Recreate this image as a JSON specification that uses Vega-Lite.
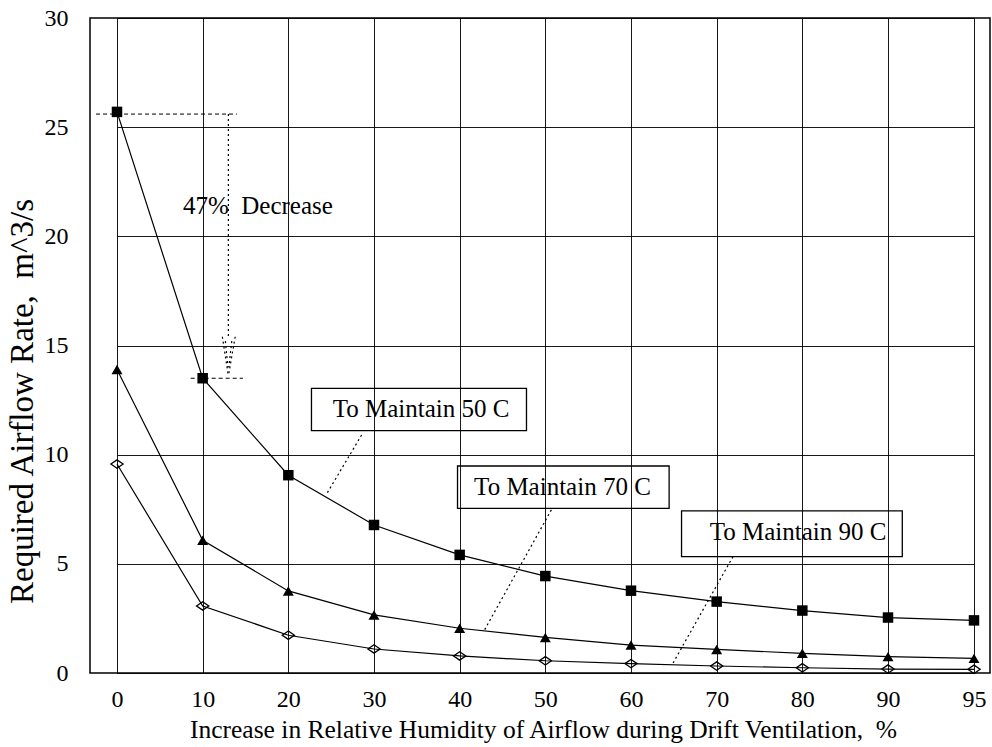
{
  "$schema": "https://vega.github.io/schema/vega-lite/v6.json",
  "width": 900,
  "height": 655,
  "autosize": {"type": "none"},
  "padding": {"left": 90, "top": 18, "right": 2, "bottom": 74},
  "background": "white",
  "config": {
    "view": {"stroke": "black", "strokeWidth": 1.5},
    "font": "Liberation Serif",
    "axis": {
      "labelFont": "Liberation Serif",
      "titleFont": "Liberation Serif",
      "labelColor": "black",
      "titleColor": "black",
      "titleFontWeight": "normal",
      "grid": true,
      "gridColor": "black",
      "gridWidth": 1,
      "gridOpacity": 0.9,
      "domain": false,
      "ticks": false,
      "tickSize": 0
    }
  },
  "datasets": {
    "series": [
      {"x": 0, "y": 25.7, "s": "50 C"}, {"x": 10, "y": 13.5, "s": "50 C"}, {"x": 20, "y": 9.06, "s": "50 C"}, {"x": 30, "y": 6.78, "s": "50 C"}, {"x": 40, "y": 5.41, "s": "50 C"}, {"x": 50, "y": 4.44, "s": "50 C"}, {"x": 60, "y": 3.77, "s": "50 C"}, {"x": 70, "y": 3.27, "s": "50 C"}, {"x": 80, "y": 2.86, "s": "50 C"}, {"x": 90, "y": 2.54, "s": "50 C"}, {"x": 95, "y": 2.41, "s": "50 C"},
      {"x": 0, "y": 13.9, "s": "70 C"}, {"x": 10, "y": 6.08, "s": "70 C"}, {"x": 20, "y": 3.76, "s": "70 C"}, {"x": 30, "y": 2.66, "s": "70 C"}, {"x": 40, "y": 2.05, "s": "70 C"}, {"x": 50, "y": 1.63, "s": "70 C"}, {"x": 60, "y": 1.28, "s": "70 C"}, {"x": 70, "y": 1.08, "s": "70 C"}, {"x": 80, "y": 0.9, "s": "70 C"}, {"x": 90, "y": 0.75, "s": "70 C"}, {"x": 95, "y": 0.67, "s": "70 C"},
      {"x": 0, "y": 9.57, "s": "90 C"}, {"x": 10, "y": 3.07, "s": "90 C"}, {"x": 20, "y": 1.73, "s": "90 C"}, {"x": 30, "y": 1.1, "s": "90 C"}, {"x": 40, "y": 0.78, "s": "90 C"}, {"x": 50, "y": 0.56, "s": "90 C"}, {"x": 60, "y": 0.43, "s": "90 C"}, {"x": 70, "y": 0.32, "s": "90 C"}, {"x": 80, "y": 0.24, "s": "90 C"}, {"x": 90, "y": 0.18, "s": "90 C"}, {"x": 95, "y": 0.17, "s": "90 C"}
    ],
    "dashed": [
      {"x": -2.45, "y": 25.6, "x2": 14.0, "y2": 25.6},
      {"x": 8.6, "y": 13.5, "x2": 14.7, "y2": 13.5}
    ],
    "dotted": [
      {"x": 13.0, "y": 25.6, "x2": 13.0, "y2": 15.4},
      {"x": 12.3, "y": 15.4, "x2": 13.0, "y2": 13.6},
      {"x": 13.8, "y": 15.4, "x2": 13.0, "y2": 13.6},
      {"x": 12.65, "y": 15.2, "x2": 12.95, "y2": 14.0},
      {"x": 13.4, "y": 15.2, "x2": 13.05, "y2": 14.0},
      {"x": 28.55, "y": 10.9, "x2": 24.47, "y2": 8.2},
      {"x": 50.7, "y": 7.47, "x2": 42.9, "y2": 1.97},
      {"x": 71.9, "y": 5.33, "x2": 64.9, "y2": 0.45}
    ],
    "boxes": [
      {"x": 22.7, "x2": 47.8, "y": 11.1, "y2": 13.04},
      {"x": 39.75, "x2": 64.45, "y": 7.54, "y2": 9.48},
      {"x": 65.9, "x2": 90.83, "y": 5.33, "y2": 7.43}
    ],
    "boxlabels": [
      {"x": 35.5, "y": 12.07, "label": "To Maintain 50 C"},
      {"x": 52.0, "y": 8.5, "label": "To Maintain 70 C"},
      {"x": 79.5, "y": 6.45, "label": "To Maintain 90 C"}
    ],
    "note": [
      {"x": 7.7, "y": 21.4, "label": "47%\u00a0 Decrease"}
    ]
  },
  "encoding": {
    "x": {
      "field": "x",
      "type": "quantitative",
      "scale": {"domain": [0, 90, 95], "range": [27, 798, 884], "nice": false, "zero": false},
      "axis": {
        "values": [0, 10, 20, 30, 40, 50, 60, 70, 80, 90, 95],
        "title": "Increase in Relative Humidity of Airflow during Drift Ventilation,\u00a0 %",
        "labelFont": "Liberation Serif",
        "titleFont": "Liberation Serif",
        "labelFontSize": 24,
        "labelPadding": 14,
        "labelFlush": false,
        "titleFontSize": 25.5,
        "titleX": 453,
        "titleY": 64,
        "titleAlign": "center",
        "titleBaseline": "alphabetic"
      }
    },
    "y": {
      "field": "y",
      "type": "quantitative",
      "scale": {"domain": [0, 30], "nice": false, "zero": true},
      "axis": {
        "values": [0, 5, 10, 15, 20, 25, 30],
        "title": "Required Airflow Rate,\u00a0 m^3/s",
        "labelFont": "Liberation Serif",
        "titleFont": "Liberation Serif",
        "labelFontSize": 24,
        "labelPadding": 22,
        "titleFontSize": 33,
        "titleAngle": -90,
        "titleX": -68,
        "titleY": 383,
        "titleAlign": "center",
        "titleBaseline": "middle"
      }
    }
  },
  "layer": [
    {
      "data": {"name": "boxes"},
      "mark": {"type": "rect", "fill": "white", "fillOpacity": 0, "stroke": "black", "strokeWidth": 1.3},
      "encoding": {"x2": {"field": "x2"}, "y2": {"field": "y2"}}
    },
    {
      "data": {"name": "dashed"},
      "mark": {"type": "rule", "color": "black", "strokeWidth": 1, "strokeDash": [4, 3]},
      "encoding": {"x2": {"field": "x2"}, "y2": {"field": "y2"}}
    },
    {
      "data": {"name": "dotted"},
      "mark": {"type": "rule", "color": "black", "strokeWidth": 1.2, "strokeDash": [2, 3]},
      "encoding": {"x2": {"field": "x2"}, "y2": {"field": "y2"}}
    },
    {
      "data": {"name": "series"},
      "mark": {"type": "line", "color": "black", "strokeWidth": 1.2},
      "encoding": {"detail": {"field": "s"}}
    },
    {
      "data": {"name": "series"},
      "transform": [{"filter": "datum.s === '50 C'"}],
      "mark": {"type": "point", "shape": "square", "filled": true, "color": "black", "size": 110, "opacity": 1}
    },
    {
      "data": {"name": "series"},
      "transform": [{"filter": "datum.s === '70 C'"}],
      "mark": {"type": "point", "shape": "triangle-up", "filled": true, "color": "black", "size": 120, "opacity": 1}
    },
    {
      "data": {"name": "series"},
      "transform": [{"filter": "datum.s === '90 C'"}],
      "mark": {"type": "point", "shape": "M-1,0L0,-0.68L1,0L0,0.68Z", "filled": false, "color": "black", "strokeWidth": 1.3, "size": 150, "opacity": 1}
    },
    {
      "data": {"name": "boxlabels"},
      "mark": {"type": "text", "font": "Liberation Serif", "fontSize": 25, "color": "black", "align": "center", "baseline": "middle"},
      "encoding": {"text": {"field": "label"}}
    },
    {
      "data": {"name": "note"},
      "mark": {"type": "text", "font": "Liberation Serif", "fontSize": 25, "color": "black", "align": "left", "baseline": "middle"},
      "encoding": {"text": {"field": "label"}}
    }
  ]
}
